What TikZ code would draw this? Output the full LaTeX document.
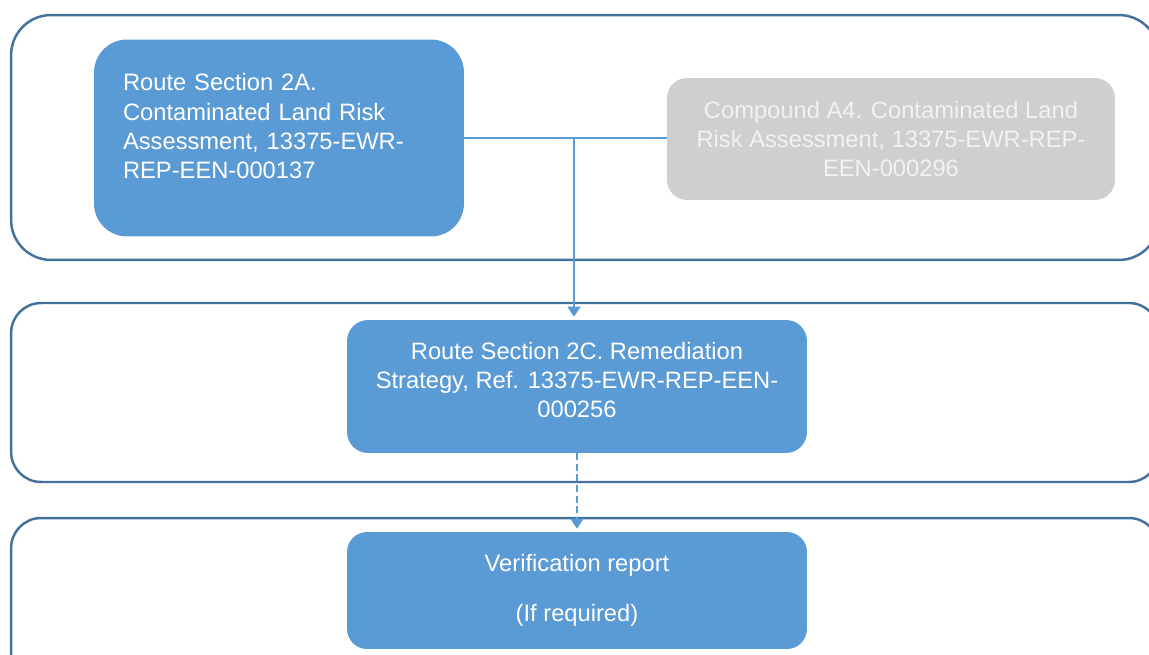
\documentclass[tikz,border=0pt]{standalone}
\usepackage{fontspec}
\setmainfont{Liberation Sans}
\usetikzlibrary{arrows.meta,positioning}
\definecolor{panelline}{HTML}{41719C}
\definecolor{stepblue}{HTML}{5B9BD5}
\definecolor{stepgrey}{HTML}{D0CECE}
\definecolor{greytext}{HTML}{F2F2F2}

\begin{document}
\begin{tikzpicture}[
    x=0.02cm, y=-0.02cm,
    panel/.style={
        rectangle, rounded corners=#1, draw=panelline,
        line width=1.4pt, minimum width=22.96cm
    },
    panel/.default=0.6cm,
    doc/.style={
        rectangle, rounded corners=#1, fill=stepblue, text=white,
        inner sep=0pt, align=center,
        font=\fontsize{13.5}{16.7}\selectfont
    },
    doc/.default=0.42cm,
    flow/.style={-{Triangle[length=0.2cm, width=0.26cm]}, line width=0.7pt, stepblue, shorten >=0.06cm},
    link/.style={line width=0.7pt, stepblue},
]
\useasboundingbox (0,0) rectangle (1149,655);
\clip (0,0) rectangle (1149,655);

% Stage panels
\node[panel=0.8cm, minimum height=4.9cm] (top) at (585,137.5) {};
\node[panel, minimum height=3.58cm] (mid) at (585,392.5) {};
\node[panel, minimum height=3.64cm] (bot) at (585,609) {};

% Reports
\node[doc=0.66cm, minimum width=7.4cm, minimum height=3.94cm, text width=6.24cm, align=left] (sec2a) at (279,138)
    {Route Section 2A.\\Contaminated Land Risk\\Assessment, 13375-EWR-\\REP-EEN-000137\rule[-0.47cm]{0pt}{0pt}};
\node[doc=0.4cm, fill=stepgrey, text=greytext, minimum width=8.96cm, minimum height=2.44cm] (compa4) at (891,139)
    {Compound A4. Contaminated Land\\Risk Assessment, 13375-EWR-REP-\\EEN-000296};
\node[doc, minimum width=9.2cm, minimum height=2.66cm] (sec2c) at (577,386.5)
    {Route Section 2C. Remediation\\Strategy, Ref. 13375-EWR-REP-EEN-\\000256\rule[-0.26cm]{0pt}{0pt}};
\node[doc=0.4cm, minimum width=9.2cm, minimum height=2.34cm] (verif) at (577,590.5)
    {Verification report\\[0.41cm](If required)};

% Arrows
\coordinate (split) at ([xshift=-0.06cm]sec2c.north |- sec2a.east);
\draw[link] (sec2a.east) -- (sec2a.east -| compa4.west);
\draw[flow] (split) -- (split |- sec2c.north);
\draw[flow, dash pattern=on 4pt off 2pt] (sec2c.south) -- (verif.north);
\end{tikzpicture}
\end{document}
